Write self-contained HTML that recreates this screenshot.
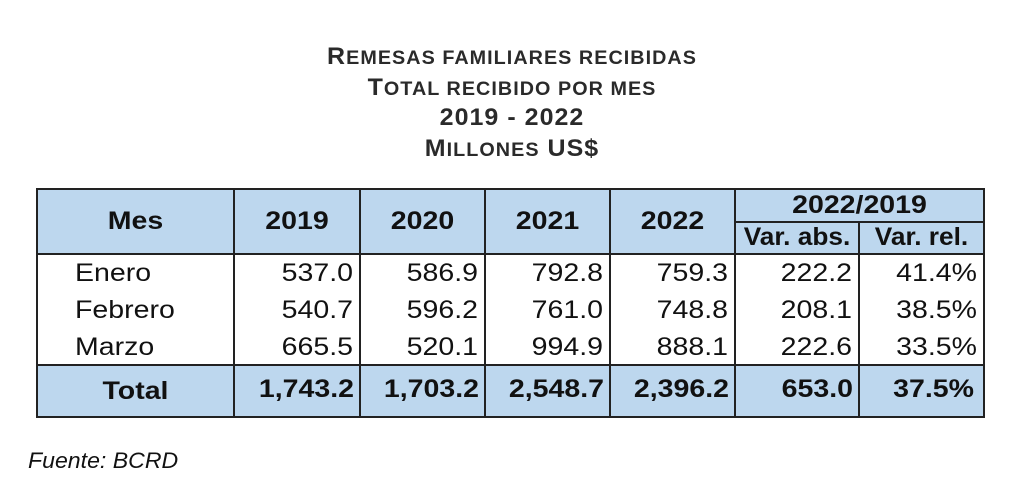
<!DOCTYPE html>
<html><head><meta charset="utf-8"><style>
*{margin:0;padding:0;box-sizing:border-box}
body{width:1024px;height:495px;background:#fff;position:relative;overflow:hidden;font-family:"Liberation Sans",Arial,sans-serif;color:#111}
.t{position:absolute;left:0;width:1024px;text-align:center;font-weight:bold;color:#2a2a2a;font-size:24px;line-height:30px;letter-spacing:1px;transform:scaleX(1.04)}
.s{font-size:19px}
.bg{position:absolute;background:#bdd7ee}
.h{position:absolute;background:#222;height:2px}
.v{position:absolute;background:#222;width:2px}
.c{position:absolute;font-size:25px;line-height:37px;white-space:nowrap;transform:scaleX(1.14);transform-origin:left center}
.b{font-weight:bold}
.r{text-align:right;transform-origin:right center}
.m{text-align:center;transform-origin:center center}
</style></head><body>
<div class="t" style="top:42px">R<span class="s">EMESAS FAMILIARES RECIBIDAS</span></div>
<div class="t" style="top:73px">T<span class="s">OTAL RECIBIDO POR MES</span></div>
<div class="t" style="top:103px">2019 - 2022</div>
<div class="t" style="top:134px">M<span class="s">ILLONES</span> US$</div>

<div class="bg" style="left:37px;top:189px;width:947px;height:65px"></div>
<div class="bg" style="left:37px;top:365px;width:947px;height:52px"></div>

<div class="h" style="left:37px;top:188px;width:948px"></div>
<div class="h" style="left:735px;top:221px;width:250px"></div>
<div class="h" style="left:37px;top:253px;width:948px"></div>
<div class="h" style="left:37px;top:364px;width:948px"></div>
<div class="h" style="left:37px;top:416px;width:948px"></div>
<div class="v" style="left:36px;top:188px;height:230px"></div>
<div class="v" style="left:233px;top:188px;height:230px"></div>
<div class="v" style="left:359px;top:188px;height:230px"></div>
<div class="v" style="left:484px;top:188px;height:230px"></div>
<div class="v" style="left:609px;top:188px;height:230px"></div>
<div class="v" style="left:734px;top:188px;height:230px"></div>
<div class="v" style="left:858px;top:221px;height:197px"></div>
<div class="v" style="left:983px;top:188px;height:230px"></div>

<div class="c b m" style="left:37px;width:197px;top:203px">Mes</div>
<div class="c b m" style="left:234px;width:126px;top:203px">2019</div>
<div class="c b m" style="left:360px;width:125px;top:203px">2020</div>
<div class="c b m" style="left:485px;width:125px;top:203px">2021</div>
<div class="c b m" style="left:610px;width:125px;top:203px">2022</div>
<div class="c b m" style="left:735px;width:249px;top:187px;line-height:36px">2022/2019</div>
<div class="c b m" style="left:735px;width:124px;top:220px;line-height:34px;transform:scaleX(1.05)">Var. abs.</div>
<div class="c b m" style="left:859px;width:125px;top:220px;line-height:34px;transform:scaleX(1.05)">Var. rel.</div>

<div class="c" style="left:75px;top:255px">Enero</div>
<div class="c" style="left:75px;top:292px">Febrero</div>
<div class="c" style="left:75px;top:329px">Marzo</div>

<div class="c r" style="left:234px;width:119px;top:255px">537.0</div>
<div class="c r" style="left:360px;width:118px;top:255px">586.9</div>
<div class="c r" style="left:485px;width:118px;top:255px">792.8</div>
<div class="c r" style="left:610px;width:118px;top:255px">759.3</div>
<div class="c r" style="left:735px;width:117px;top:255px">222.2</div>
<div class="c r" style="left:859px;width:118px;top:255px">41.4%</div>

<div class="c r" style="left:234px;width:119px;top:292px">540.7</div>
<div class="c r" style="left:360px;width:118px;top:292px">596.2</div>
<div class="c r" style="left:485px;width:118px;top:292px">761.0</div>
<div class="c r" style="left:610px;width:118px;top:292px">748.8</div>
<div class="c r" style="left:735px;width:117px;top:292px">208.1</div>
<div class="c r" style="left:859px;width:118px;top:292px">38.5%</div>

<div class="c r" style="left:234px;width:119px;top:329px">665.5</div>
<div class="c r" style="left:360px;width:118px;top:329px">520.1</div>
<div class="c r" style="left:485px;width:118px;top:329px">994.9</div>
<div class="c r" style="left:610px;width:118px;top:329px">888.1</div>
<div class="c r" style="left:735px;width:117px;top:329px">222.6</div>
<div class="c r" style="left:859px;width:118px;top:329px">33.5%</div>

<div class="c b m" style="left:37px;width:197px;top:373px">Total</div>
<div class="c b r" style="left:234px;width:120px;top:371px">1,743.2</div>
<div class="c b r" style="left:360px;width:119px;top:371px">1,703.2</div>
<div class="c b r" style="left:485px;width:119px;top:371px">2,548.7</div>
<div class="c b r" style="left:610px;width:119px;top:371px">2,396.2</div>
<div class="c b r" style="left:735px;width:118px;top:371px">653.0</div>
<div class="c b r" style="left:859px;width:115px;top:371px">37.5%</div>

<div class="c" style="left:28px;top:442px;font-style:italic;font-size:22px;transform:scaleX(1.05)">Fuente: BCRD</div>
</body></html>
